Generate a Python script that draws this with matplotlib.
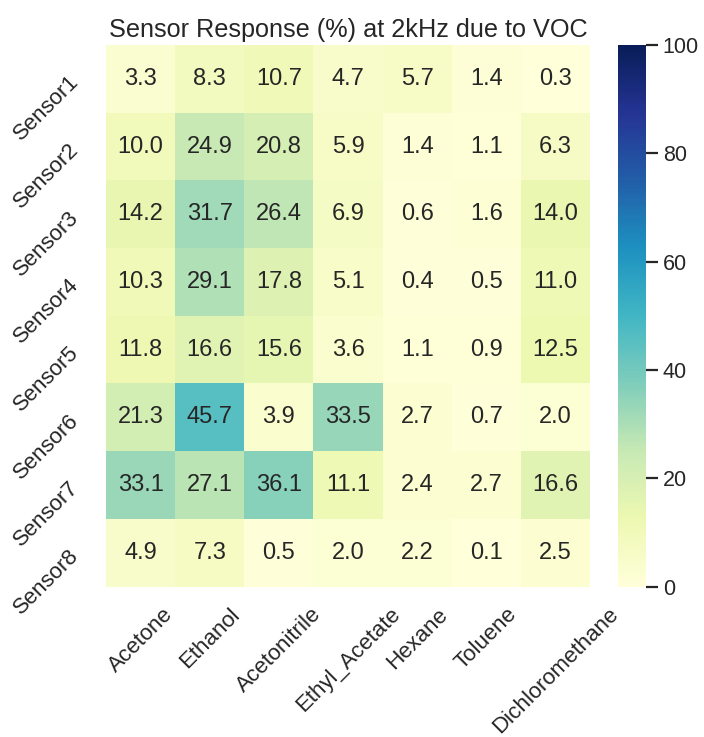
import numpy as np
import matplotlib
matplotlib.use("Agg")
import matplotlib.pyplot as plt
import seaborn as sns

sensors = ["Sensor1", "Sensor2", "Sensor3", "Sensor4", "Sensor5", "Sensor6", "Sensor7", "Sensor8"]
vocs = ["Acetone", "Ethanol", "Acetonitrile", "Ethyl_Acetate", "Hexane", "Toluene", "Dichloromethane"]

sensor1 = [3.3, 8.3, 10.7, 4.7, 5.7, 1.4, 0.3]
sensor2 = [10.0, 24.9, 20.8, 5.9, 1.4, 1.1, 6.3]
sensor3 = [14.2, 31.7, 26.4, 6.9, 0.6, 1.6, 14.0]
sensor4 = [10.3, 29.1, 17.8, 5.1, 0.4, 0.5, 11.0]
sensor5 = [11.8, 16.6, 15.6, 3.6, 1.1, 0.9, 12.5]
sensor6 = [21.3, 45.7, 3.9, 33.5, 2.7, 0.7, 2.0]
sensor7 = [33.1, 27.1, 36.1, 11.1, 2.4, 2.7, 16.6]
sensor8 = [4.9, 7.3, 0.5, 2.0, 2.2, 0.1, 2.5]

response = np.array([sensor1, sensor2, sensor3, sensor4,
                     sensor5, sensor6, sensor7, sensor8])

sns.set_theme(style="darkgrid", context="talk")
plt.rcParams['font.family'] = ['Liberation Sans', 'DejaVu Sans']

fig = plt.figure(figsize=(7.04, 7.37), dpi=100)
ax = fig.add_axes([0.1506, 0.2042, 0.6875, 0.7347])
cax = fig.add_axes([0.8778, 0.2042, 0.0398, 0.7347])

sns.heatmap(response, ax=ax, cbar_ax=cax, cmap="YlGnBu", vmin=0, vmax=100,
            annot=True, fmt=".1f", annot_kws={"size": 17},
            xticklabels=vocs, yticklabels=sensors)

ax.set_title("Sensor Response (%) at 2kHz due to VOC", fontsize=18.2)
ax.set_xticklabels(vocs, rotation=45, ha="center", fontsize=16)
ax.set_yticklabels(sensors, rotation=45, ha="right", va="center",
                   rotation_mode="anchor", fontsize=16)
ax.tick_params(axis="y", pad=13)
cax.tick_params(labelsize=15.5, length=8.5, width=1.6, color="#262626",
                right=True, left=False)

fig.savefig("out.png", dpi=100)
